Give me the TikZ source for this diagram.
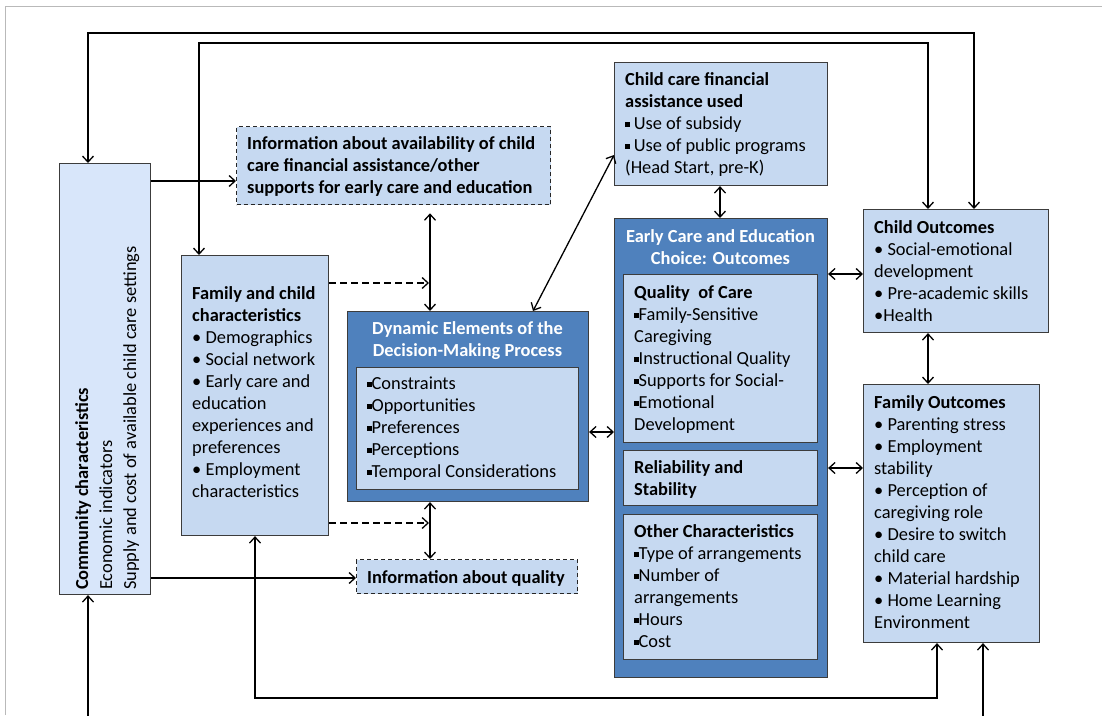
\documentclass[tikz,border=0pt]{standalone}
\usepackage{fontspec}
\setmainfont{Carlito}
\usetikzlibrary{arrows.meta}
\definecolor{lightbox}{HTML}{C6D9F1}
\definecolor{commbox}{HTML}{D8E6FA}
\definecolor{darkbox}{HTML}{4F81BD}
\definecolor{edgecol}{HTML}{3C3C3C}
\newcommand\sqb{\raisebox{0.32ex}{\rule{0.24em}{0.24em}}}
\newcommand\fs{\fontsize{18.4}{22}\selectfont}
\begin{document}
\begin{tikzpicture}[x=1pt,y=-1pt,
  boxstyle/.style={draw=edgecol, line width=1.1pt, fill=lightbox, inner sep=0pt, anchor=north west},
  darkstyle/.style={boxstyle, fill=darkbox},
  dashbox/.style={boxstyle, draw=black!85, line width=1.3pt, dash pattern=on 4pt off 3pt},
  txt/.style={inner sep=0pt, anchor=north west, align=left, font=\fs, text=black},
  wtxt/.style={inner sep=0pt, anchor=north, align=center, font=\fs\bfseries, text=white},
  conn/.style={line width=1.3pt, >={Straight Barb[length=6pt,width=11pt]}},
  dconn/.style={conn, dash pattern=on 7pt off 4pt}]
\useasboundingbox (0,0) rectangle (1102,715);
% frame
\draw[gray!55, line width=0.8pt] (5,715) -- (5,6) -- (1102,6);
% boxes
\node[boxstyle, fill=commbox, minimum width=91pt, minimum height=431pt] (comm) at (59,163) {};
\node[dashbox, minimum width=314pt, minimum height=78pt] (info1) at (236,126) {};
\node[boxstyle, minimum width=147pt, minimum height=280pt] (fam) at (181,255) {};
\node[darkstyle, minimum width=241pt, minimum height=190pt] (dyn) at (347,311) {};
\node[boxstyle, minimum width=222pt, minimum height=122pt] (dynin) at (356,367) {};
\node[dashbox, minimum width=221pt, minimum height=34pt] (infoq) at (356,559) {};
\node[boxstyle, minimum width=213pt, minimum height=123pt] (ccfa) at (614,62) {};
\node[darkstyle, minimum width=213pt, minimum height=459pt] (ece) at (614,218) {};
\node[boxstyle, minimum width=194pt, minimum height=168pt] (qual) at (623,274) {};
\node[boxstyle, minimum width=194pt, minimum height=55pt] (rel) at (623,450) {};
\node[boxstyle, minimum width=194pt, minimum height=145pt] (other) at (623,514) {};
\node[boxstyle, minimum width=185pt, minimum height=123pt] (chout) at (863,209) {};
\node[boxstyle, minimum width=176pt, minimum height=258pt] (fmout) at (863,384) {};
% texts
\node[txt, rotate=90, font=\fontsize{18.4}{24}\selectfont] (tcomm) at (71,590) {\strut\textbf{Community characteristics}\\Economic indicators\\Supply and cost of available child care settings};
\node[txt, font=\fs\bfseries] (tinfo1) at (247,134) {\strut Information about availability of child\\care financial assistance/other\\supports for early care and education};
\node[txt] (tfam) at (192,284) {\strut\textbf{Family and child}\\\textbf{characteristics}\\\textbullet\ Demographics\\\textbullet\ Social network\\\textbullet\ Early care and\\education\\experiences and\\preferences\\\textbullet\ Employment\\characteristics};
\node[wtxt] (tdyn) at (467.5,319) {\strut Dynamic Elements of the\\Decision-Making Process};
\node[txt] (tdynin) at (367,374) {\strut\sqb Constraints\\\sqb Opportunities\\\sqb Preferences\\\sqb Perceptions\\\sqb Temporal Considerations};
\node[txt, font=\fs\bfseries] (tinfoq) at (367,568) {\strut Information about quality};
\node[txt] (tccfa) at (625,70) {\strut\textbf{Child care financial}\\\textbf{assistance used}\\\sqb\ Use of subsidy\\\sqb\ Use of public programs\\(Head Start, pre-K)};
\node[wtxt] (tece) at (720.5,227) {\strut Early Care and Education\\Choice: Outcomes};
\node[txt] (tqual) at (634,283) {\strut\textbf{Quality\ \ of Care}\\\sqb Family-Sensitive\\Caregiving\\\sqb Instructional Quality\\\sqb Supports for Social-\\\sqb Emotional\\Development};
\node[txt, font=\fs\bfseries] (trel) at (634,458) {\strut Reliability and\\Stability};
\node[txt] (tother) at (634,522) {\strut\textbf{Other Characteristics}\\\sqb Type of arrangements\\\sqb Number of\\arrangements\\\sqb Hours\\\sqb Cost};
\node[txt] (tchout) at (874,218) {\strut\textbf{Child Outcomes}\\\textbullet\ Social-emotional\\development\\\textbullet\ Pre-academic skills\\\textbullet Health};
\node[txt] (tfmout) at (874,393) {\strut\textbf{Family Outcomes}\\\textbullet\ Parenting stress\\\textbullet\ Employment\\stability\\\textbullet\ Perception of\\caregiving role\\\textbullet\ Desire to switch\\child care\\\textbullet\ Material hardship\\\textbullet\ Home Learning\\Environment};
% connectors
\draw[conn,<->] (comm.north -| 88,0) -- (88,33) -- (974,33) -- (chout.north -| 974,0);
\draw[conn,<->] (fam.north -| 199,0) -- (199,43) -- (928,43) -- (chout.north -| 928,0);
\draw[conn,->] (comm.east |- 0,181) -- (info1.west |- 0,181);
\draw[conn,->] (comm.east |- 0,578) -- (infoq.west |- 0,578);
\draw[conn,<->, shorten <=8pt] (info1.south -| 430,0) -- (dyn.north -| 430,0);
\draw[conn,<->] (dyn.south -| 430,0) -- (infoq.north -| 430,0);
\coordinate (dj1) at (429,283);
\coordinate (dj2) at (429,523);
\draw[dconn,->] (fam.east |- dj1) -- (dj1);
\draw[dconn,->] (fam.east |- dj2) -- (dj2);
\draw[conn,<->] (dyn.north -| 533,0) -- (ccfa.west |- 0,155);
\draw[conn,<->] (ccfa.south -| 720,0) -- (ece.north -| 720,0);
\draw[conn,<->] (dyn.east |- 0,432) -- (ece.west |- 0,432);
\draw[conn,<->] (ece.east |- 0,274) -- (chout.west |- 0,274);
\draw[conn,<->] (ece.east |- 0,468) -- (fmout.west |- 0,468);
\draw[conn,<->] (chout.south -| 928,0) -- (fmout.north -| 928,0);
\draw[conn,<->] (fam.south -| 255,0) -- (255,698) -- (937,698) -- (fmout.south -| 937,0);
\coordinate (bot1) at (88,716);
\coordinate (bot2) at (983,716);
\draw[conn,->] (bot1) -- (comm.south -| bot1);
\draw[conn,->] (bot2) -- (fmout.south -| bot2);
\end{tikzpicture}
\end{document}
